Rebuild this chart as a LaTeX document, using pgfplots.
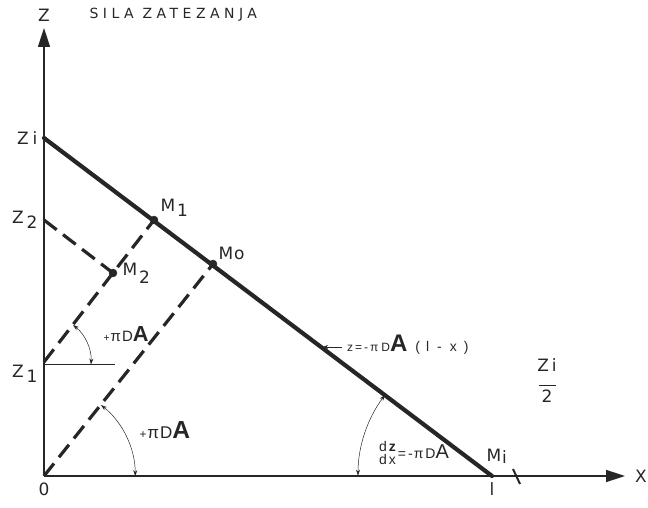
\documentclass[border=0pt]{standalone}
\usepackage{fontspec}
\setmainfont{DejaVu Sans}
\newfontfamily\hand{Liberation Sans}
\usepackage{pgfplots}
\pgfplotsset{compat=1.18}
\usetikzlibrary{arrows.meta}
\definecolor{ink}{HTML}{262626}
\newcommand{\pda}[1]{{\hand\fontsize{#1}{#1}\selectfont{\fontsize{0.7\dimexpr#1\relax}{1}\selectfont +}\kern1pt π\kern1pt D{\fontsize{1.45\dimexpr#1\relax}{1}\selectfont\bfseries A}}}

\begin{document}
\begin{tikzpicture}
\begin{axis}[
  x=1pt, y=1pt,
  xmin=0, xmax=581, ymin=0, ymax=448,
  axis lines=left,
  axis line style={ink, line width=1.5pt, -{Triangle[length=19pt,width=12pt]}},
  major tick length=0pt,
  xtick={0,448}, xticklabels={0,l},
  ytick={114,256,338},
  yticklabels={\raisebox{-16pt}[0pt][0pt]{Z\kern3pt\raisebox{-5pt}{1}},Z\kern3pt\raisebox{-5pt}{2},Z\kern4pt i},
  tick label style={font=\fontsize{17}{18}\selectfont, text=ink},
  xticklabel style={yshift=-3pt},
  yticklabel style={xshift=-3pt},
  clip=false,
]
% main line z = -pi D A (l - x)
\addplot[ink, line width=4.2pt, line cap=round] coordinates {(0,338) (448,0)};
% dashed construction lines
\addplot[ink, line width=3.2pt, dash pattern=on 16pt off 8pt] coordinates {(0,256) (69,203)};
\addplot[ink, line width=3.2pt, dash pattern=on 16pt off 8pt] coordinates {(0,114) (110,256)};
\addplot[ink, line width=3.2pt, dash pattern=on 16pt off 8pt] coordinates {(0,0) (169,212)};
% thin horizontal at Z1
\addplot[ink, line width=0.6pt] coordinates {(0,112) (71,112)};
% points
\addplot[only marks, mark=*, mark size=4pt, ink] coordinates {(110,256) (169,212) (69,203)};

% angle arcs
\draw[ink, line width=0.5pt, {Stealth[length=6pt,width=4pt]}-{Stealth[length=6pt,width=4pt]}]
  (axis cs:29,151) arc[start angle=52, end angle=-3, radius=47pt];
\draw[ink, line width=0.5pt, {Stealth[length=6pt,width=4pt]}-{Stealth[length=6pt,width=4pt]}]
  (axis cs:57,71) arc[start angle=51.4, end angle=0, radius=91pt];
\draw[ink, line width=0.5pt, {Stealth[length=6pt,width=4pt]}-{Stealth[length=6pt,width=4pt]}]
  (axis cs:341,81) arc[start angle=143, end angle=180, radius=134pt];

% texts
\node[ink, font=\fontsize{17}{18}\selectfont] at (axis cs:0,461) {Z};
\node[ink, font=\fontsize{14}{15}\selectfont, anchor=west] at (axis cs:42,461) {\addfontfeature{LetterSpace=32}SILA ZATEZANJA};
\node[ink, font=\fontsize{17}{18}\selectfont] at (axis cs:597,0) {X};
\node[ink, font=\fontsize{17}{18}\selectfont, anchor=west] at (axis cs:113,268) {M\kern2pt\raisebox{-5pt}{1}};
\node[ink, font=\fontsize{17}{18}\selectfont, anchor=west] at (axis cs:75,203) {M\kern2pt\raisebox{-8pt}{2}};
\node[ink, font=\fontsize{17}{18}\selectfont, anchor=west] at (axis cs:171,223) {M\kern1pt o};
\node[ink, font=\fontsize{17}{18}\selectfont, anchor=west] at (axis cs:439,20) {M\kern1pt\raisebox{-2pt}{i}};
\node[ink, font=\fontsize{17}{18}\selectfont] at (axis cs:503,93) {\begin{tabular}{c}Z\kern3pt i\\[-3pt]\rule{17pt}{0.8pt}\\[-2pt]2\end{tabular}};
\node[ink, anchor=west] at (axis cs:56,142) {\pda{15pt}};
\node[ink, anchor=west] at (axis cs:92,46) {\pda{17pt}};
\node[ink, anchor=west, inner sep=0pt, font=\hand] at (axis cs:335,23)
  {\fontsize{14}{12}\selectfont\shortstack[l]{d\kern2pt\textbf{z}\\[-1pt]d\kern2pt x}\kern2pt\raisebox{6pt}{=\kern2pt-\kern1pt π\kern2pt D{\fontsize{20}{20}\selectfont A}}};
\draw[ink, line width=0.5pt, {Stealth[length=5pt,width=4pt]}-] (axis cs:279,129) -- (axis cs:298,129);
\node[ink, anchor=west, inner sep=0pt, font=\hand] at (axis cs:303,131)
  {\fontsize{12}{12}\selectfont z\kern2pt=\kern2pt-\kern2pt π\kern3pt D{\fontsize{24}{24}\selectfont\bfseries A}\kern8pt{\fontsize{14}{14}\selectfont (\kern6pt l\kern8pt -\kern8pt x\kern7pt )}};
% small mark on the x axis near l
\draw[ink, line width=2pt] (axis cs:469,7) -- (axis cs:476,-8);

\coordinate (bbsw) at (axis cs:-44,-32);
\coordinate (bbne) at (axis cs:604,476);
\end{axis}
\pgfresetboundingbox
\path (bbsw) rectangle (bbne);
\end{tikzpicture}
\end{document}
